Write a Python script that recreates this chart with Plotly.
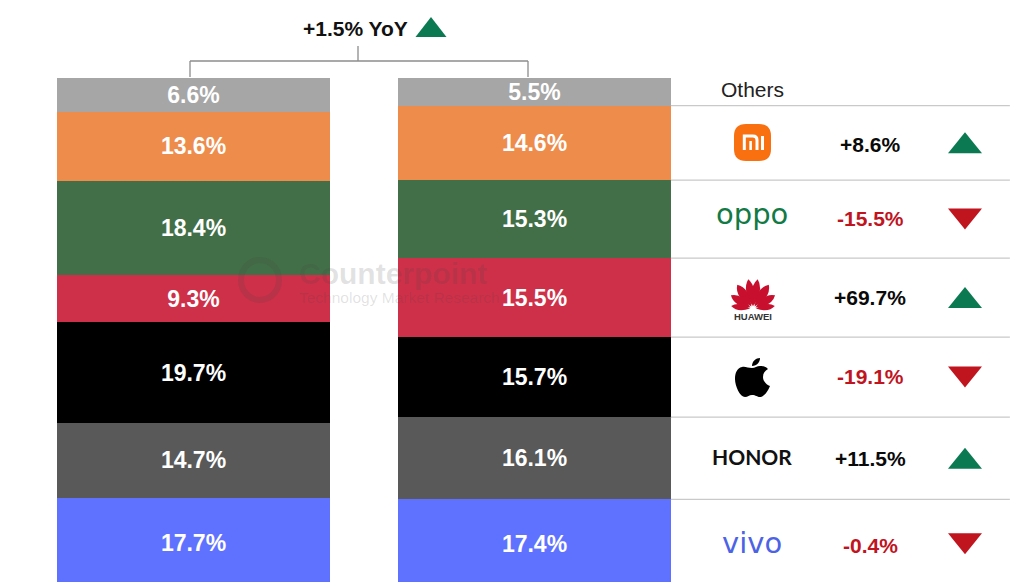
import numpy as np
import plotly.graph_objects as go

brands = ["vivo", "HONOR", "Apple", "Huawei", "OPPO", "Xiaomi", "Others"]
colors = ["#5f72ff", "#595959", "#000000", "#ce3049", "#426f47", "#ee8c4b", "#a6a6a6"]
share_prev = [17.7, 14.7, 19.7, 9.3, 18.4, 13.6, 6.6]
share_curr = [17.4, 16.1, 15.7, 15.5, 15.3, 14.6, 5.5]
yoy_brand = [-0.4, 11.5, -19.1, 69.7, -15.5, 8.6]
yoy_total = 1.5

W, H = 1035, 582
GREEN, RED = "#0b7a53", "#c0141f"
FONT = "Liberation Sans"


def xp(v):
    return v / W


def yp(v):
    return 1 - v / H


def path(*tokens):
    """Turn a path given in page pixels into a path in paper fractions."""
    out, is_x = [], True
    for t in tokens:
        if isinstance(t, str):
            out.append(t)
            is_x = True
        else:
            out.append(f"{xp(t):.5f}" if is_x else f"{yp(t):.5f}")
            is_x = not is_x
    return " ".join(out)


def deco(p, fill=None, line=None, lw=0):
    return dict(type="path", xref="paper", yref="paper", path=p, fillcolor=fill or "rgba(0,0,0,0)",
                line=dict(color=line or "rgba(0,0,0,0)", width=lw), layer="above")


def pline(x0, y0, x1, y1, color="#8c8c8c", lw=1.3):
    return dict(type="line", xref="paper", yref="paper", x0=xp(x0), x1=xp(x1), y0=yp(y0), y1=yp(y1),
                line=dict(color=color, width=lw), layer="above")


def tri(cx, cy, up, w=34, h=21):
    s = 1 if up else -1
    return deco(path("M", cx - w / 2, cy + s * h / 2, "L", cx + w / 2, cy + s * h / 2,
                     "L", cx, cy - s * h / 2, "Z"), fill=GREEN if up else RED)


def label(px, py, text, **font):
    return dict(x=xp(px), y=yp(py), xref="paper", yref="paper", xanchor="center", yanchor="middle",
                showarrow=False, text=text, font=font)


fig = go.Figure()
for i, b in enumerate(brands):
    fig.add_bar(x=[0, 1], y=[share_prev[i], share_curr[i]], width=0.8, name=b,
                marker=dict(color=colors[i], line=dict(width=0)),
                text=[f"{share_prev[i]:.1f}%", f"{share_curr[i]:.1f}%"],
                textposition="inside", insidetextanchor="middle", textangle=0,
                constraintext="none", cliponaxis=False,
                textfont=dict(family=FONT, size=23, color="white", weight="bold"))

tops = np.cumsum(share_curr)
mids = tops - np.array(share_curr) / 2
PX_PER = 5.1
shapes, ann = [], []

# table rules follow the segment tops of the current bar
for t in tops[:-1]:
    shapes.append(dict(type="line", xref="x", yref="y", x0=1.4, x1=2.394, y0=t, y1=t,
                       line=dict(color="#c9c9c9", width=1.3), layer="above"))

# growth column
text_shift = [-2, 0, 0.5, 0.5, 0.5, -1.5]
for i, g in enumerate(yoy_brand):
    ann.append(dict(x=1.984, y=mids[i], xref="x", yref="y", yshift=text_shift[i], showarrow=False,
                    xanchor="center", yanchor="middle",
                    text=f"{g:+.1f}%", font=dict(family=FONT, size=21, weight="bold",
                                                 color="#0a0a0a" if g > 0 else RED)))
    cy = H - (mids[i] * PX_PER) + 6
    shapes.append(tri(965, cy, g > 0))

ann.append(label(753, 89, "Others", family=FONT, size=21, color="#222222"))

# bracket and total
for seg in [(358, 46, 358, 61), (190, 61, 528, 61), (190, 61, 190, 77), (528, 61, 528, 77)]:
    shapes.append(pline(*seg))
ann.append(label(355, 28, f"{yoy_total:+.1f}% YoY", family=FONT, size=21, weight="bold", color="#111111"))
shapes.append(tri(431, 27, True, w=31, h=20))

# Xiaomi logo
shapes.append(deco(path("M", 746, 124, "C", 738, 124, 734, 128, 734, 136, "L", 734, 149, "C", 734, 157, 738, 161, 746, 161,
                        "L", 759, 161, "C", 767, 161, 771, 157, 771, 149, "L", 771, 136, "C", 771, 128, 767, 124, 759, 124, "Z"),
                   fill="#f8700f"))
shapes.append(deco(path("M", 744.3, 150, "L", 744.3, 136, "L", 753, 136, "C", 755.5, 136, 757, 137.5, 757, 140, "L", 757, 150),
                   line="white", lw=3))
shapes.append(deco(path("M", 750.6, 150, "L", 750.6, 141), line="white", lw=2.6))
shapes.append(deco(path("M", 762.5, 136, "L", 762.5, 150), line="white", lw=3))

# OPPO, HONOR, vivo wordmarks
ann.append(label(752, 214, "oppo", family="DejaVu Sans", size=29, color="#117a45"))
ann.append(label(752, 456, "HONOR", family="Lato", size=21, color="#111111", weight="bold"))
ann.append(label(752, 543, "vivo", family="DejaVu Sans", size=29, color="#4c63e6"))

# Huawei logo
cx, cy = 753, 309
for ang, r, wd in [(9, 30, 8), (33, 29, 9), (58, 26, 8), (82, 22, 6)]:
    for s in (-1, 1):
        a = np.radians(ang)
        ux, uy = s * np.sin(a), -np.cos(a)
        nx, ny = -uy, ux
        bx, by = cx + ux * 3, cy + uy * 3
        tx, ty = cx + ux * r, cy + uy * r
        mx, my = cx + ux * r * 0.68, cy + uy * r * 0.68
        shapes.append(deco(path("M", bx, by, "Q", mx + nx * wd, my + ny * wd, tx, ty,
                                "Q", mx - nx * wd, my - ny * wd, bx, by, "Z"), fill="#c8102e"))
ann.append(label(752.5, 316, "HUAWEI", family=FONT, size=9.5, weight="bold", color="#333333"))

# Apple logo
shapes.append(deco(path("M", 752, 368, "C", 748, 368, 745, 366, 742, 367, "C", 737, 368, 735, 373, 735, 379,
                        "C", 735, 386, 740, 397, 745, 397, "C", 748, 397, 749, 395, 752, 395,
                        "C", 756, 395, 757, 397, 760, 397, "C", 764, 397, 768, 391, 770, 386,
                        "C", 765, 384, 763, 380, 763, 377, "C", 763, 373, 765, 371, 768, 369,
                        "C", 765, 366, 762, 366, 760, 366, "C", 757, 366, 755, 368, 752, 368, "Z"), fill="#000000"))
shapes.append(deco(path("M", 752, 366, "C", 752, 361, 756, 358, 760, 358, "C", 760, 362, 757, 366, 752, 366, "Z"), fill="#000000"))

# watermark
WM = "rgba(70,70,70,0.16)"
shapes.append(dict(type="circle", xref="paper", yref="paper", x0=xp(241), x1=xp(279), y0=yp(260), y1=yp(300),
                   line=dict(color=WM, width=6), layer="above"))
ann.append(dict(x=xp(297), y=yp(273), xref="paper", yref="paper", xanchor="left", yanchor="middle", showarrow=False,
                text="Counterpoint", font=dict(family=FONT, size=30, weight="bold", color=WM)))
ann.append(dict(x=xp(297), y=yp(297), xref="paper", yref="paper", xanchor="left", yanchor="middle", showarrow=False,
                text="Technology Market Research", font=dict(family=FONT, size=15.5, color=WM)))

fig.update_layout(
    width=W, height=H, barmode="stack", showlegend=False,
    margin=dict(l=0, r=0, t=0, b=0), paper_bgcolor="white", plot_bgcolor="white",
    xaxis=dict(range=[-0.5674, 2.4677], visible=False),
    yaxis=dict(range=[1.18, 115.3], visible=False),
    shapes=shapes, annotations=ann,
)
fig.write_html("out.html", config=dict(displayModeBar=False),
               post_script="document.body.style.margin='0';document.body.style.overflow='hidden';")
